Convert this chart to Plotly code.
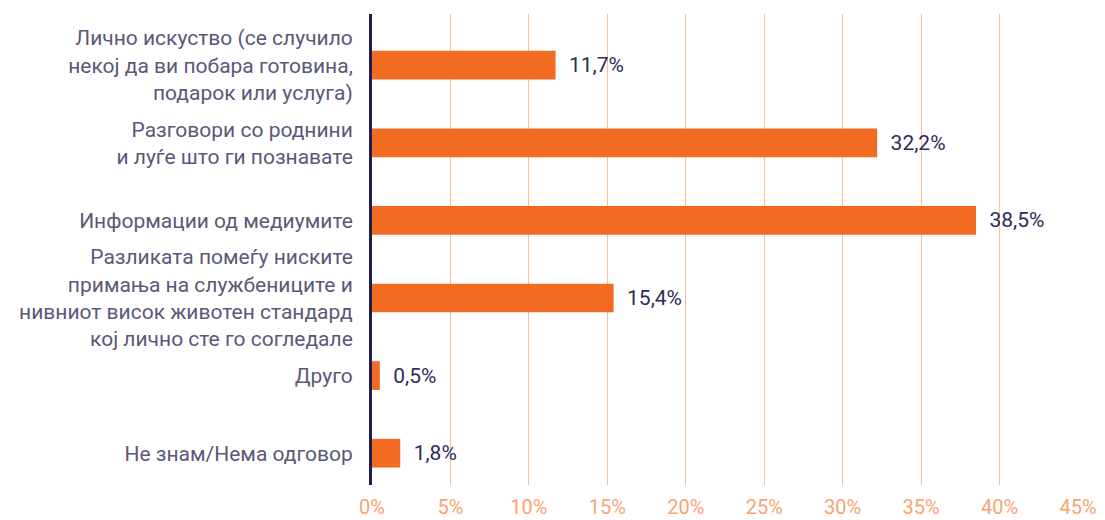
import plotly.graph_objects as go

categories = [
    "Лично искуство (се случило<br>некој да ви побара готовина,<br>подарок или услуга)",
    "Разговори со роднини<br>и луѓе што ги познавате",
    "Информации од медиумите",
    "Разликата помеѓу ниските<br>примања на службениците и<br>нивниот висок животен стандард<br>кој лично сте го согледале",
    "Друго",
    "Не знам/Нема одговор",
]
values = [11.7, 32.2, 38.5, 15.4, 0.5, 1.8]
tick_vals = [0, 5, 10, 15, 20, 25, 30, 35, 40, 45]
tick_text = [f"{v}%" for v in tick_vals]

FONT = "Roboto"
fig = go.Figure(
    go.Bar(
        y=categories,
        x=values,
        orientation="h",
        marker=dict(color="#F26B22", line=dict(width=0)),
        texttemplate="\u00a0\u00a0%{x:.1f}%",
        textposition="outside",
        cliponaxis=False,
        textfont=dict(family=FONT, size=21, color="#2E2C57"),
        width=0.37,
    )
)

fig.update_layout(
    width=1097,
    height=512,
    separators=",.",
    paper_bgcolor="white",
    plot_bgcolor="white",
    margin=dict(l=364, r=27, t=6, b=35, autoexpand=False),
    showlegend=False,
    font=dict(family=FONT),
    xaxis=dict(
        range=[0, 45],
        tickvals=tick_vals,
        ticktext=tick_text,
        showgrid=True,
        gridcolor="#F9BE98",
        gridwidth=1,
        zeroline=False,
        showline=False,
        ticks="outside",
        ticklen=4,
        tickcolor="rgba(0,0,0,0)",
        automargin=False,
        tickfont=dict(family=FONT, size=20, color="#F8A472"),
    ),
    yaxis=dict(
        categoryorder="array",
        categoryarray=categories,
        range=[5.41, -0.66],
        showline=True,
        linecolor="#1F1D4D",
        linewidth=3,
        showgrid=False,
        zeroline=False,
        ticks="outside",
        ticklen=12,
        tickcolor="rgba(0,0,0,0)",
        automargin=False,
        tickfont=dict(family=FONT, size=21, color="#5B5878"),
    ),
)

fig.write_html("out.html")
